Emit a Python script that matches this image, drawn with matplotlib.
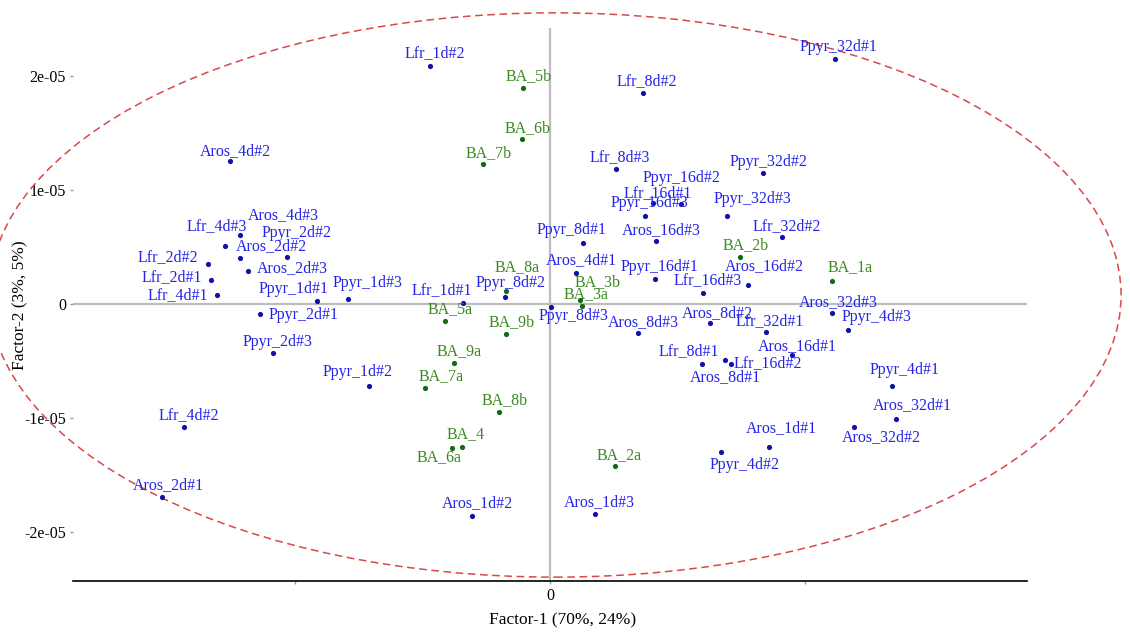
import matplotlib
matplotlib.use("Agg")
import matplotlib.pyplot as plt
from matplotlib.patches import Ellipse

plt.rcParams['font.family'] = ['Liberation Serif', 'DejaVu Serif']

# ---- data (scores in units of 1e-05) ----
blue_names = ["Lfr_1d#2", "Lfr_8d#2", "Ppyr_32d#1", "Aros_4d#2", "Lfr_8d#3", "Ppyr_32d#2",
              "Ppyr_16d#2", "Lfr_16d#1", "Ppyr_16d#3", "Ppyr_32d#3", "Lfr_4d#3", "Aros_4d#3",
              "Ppyr_2d#2", "Aros_2d#2", "Lfr_2d#2", "Aros_2d#3", "Lfr_2d#1", "Lfr_4d#1",
              "Ppyr_1d#1", "Ppyr_1d#3", "Ppyr_8d#1", "Aros_16d#3", "Lfr_32d#2", "Aros_4d#1",
              "Ppyr_16d#1", "Aros_16d#2", "Lfr_16d#3", "Lfr_1d#1", "Ppyr_8d#2", "Ppyr_8d#3",
              "Aros_8d#3", "Aros_8d#2", "Lfr_32d#1", "Aros_32d#3", "Ppyr_4d#3", "Ppyr_2d#1",
              "Ppyr_2d#3", "Ppyr_1d#2", "Lfr_8d#1", "Lfr_16d#2", "Aros_8d#1", "Aros_16d#1",
              "Ppyr_4d#1", "Aros_32d#1", "Aros_32d#2", "Aros_1d#1", "Ppyr_4d#2", "Lfr_4d#2",
              "Aros_2d#1", "Aros_1d#2", "Aros_1d#3"]
blue_x = [-0.470, 0.365, 1.118, -1.255, 0.259, 0.835,
          0.514, 0.404, 0.373, 0.694, -1.275, -1.216,
          -1.031, -1.216, -1.341, -1.184, -1.329, -1.306,
          -0.914, -0.792, 0.129, 0.416, 0.910, 0.102,
          0.412, 0.776, 0.600, -0.341, -0.176, 0.004,
          0.345, 0.627, 0.847, 1.106, 1.169, -1.137,
          -1.086, -0.710, 0.596, 0.710, 0.686, 0.949,
          1.341, 1.357, 1.192, 0.859, 0.671, -1.435,
          -1.522, -0.306, 0.176]
blue_y = [2.09, 1.85, 2.15, 1.254, 1.184, 1.149,
          0.877, 0.886, 0.772, 0.772, 0.509, 0.605,
          0.412, 0.404, 0.351, 0.289, 0.211, 0.079,
          0.026, 0.044, 0.535, 0.553, 0.588, 0.272,
          0.219, 0.167, 0.096, 0.009, 0.061, -0.026,
          -0.254, -0.167, -0.246, -0.079, -0.228, -0.088,
          -0.430, -0.719, -0.526, -0.526, -0.491, -0.447,
          -0.719, -1.009, -1.079, -1.254, -1.298, -1.079,
          -1.693, -1.860, -1.842]

green_names = ["BA_5b", "BA_6b", "BA_7b", "BA_2b", "BA_1a", "BA_8a", "BA_3b", "BA_3a",
               "BA_5a", "BA_9b", "BA_9a", "BA_7a", "BA_8b", "BA_4", "BA_6a", "BA_2a"]
green_x = [-0.106, -0.110, -0.263, 0.745, 1.106, -0.173, 0.118, 0.125,
           -0.412, -0.173, -0.376, -0.490, -0.200, -0.345, -0.384, 0.255]
green_y = [1.895, 1.447, 1.228, 0.412, 0.202, 0.114, 0.035, -0.018,
           -0.149, -0.263, -0.518, -0.737, -0.947, -1.254, -1.263, -1.421]

y_ticks = [-2, -1, 0, 1, 2]
y_tick_labels = ["-2e-05", "-1e-05", "0", "1e-05", "2e-05"]
x_ticks = [-1, 0, 1]
x_tick_labels = ["", "0", ""]

# label placement (offset of label centre from point, in pixels)
blue_off = [(4.5, 13), (3.5, 12), (4, 12), (5.5, 10), (3.5, 12), (6, 11),
            (0, 26), (4.5, 10), (4.5, 13), (26, 17), (-8, 20), (43, 20),
            (9, 24), (31, 12), (-40.5, 7), (44.5, 3), (-39.5, 3), (-39.5, 0),
            (-23.5, 12), (19.5, 16), (-11.5, 13), (5, 11), (5, 11), (5.5, 13),
            (4, 12), (16.5, 19), (4.5, 13), (-21.5, 13), (5, 14), (22.5, -9),
            (5.5, 11), (7.5, 10), (3.5, 11), (6, 11), (29, 13), (43, -1),
            (4.5, 11), (-11, 14), (-13, 13), (37, 1), (1, -17), (5.5, 9),
            (13, 16), (16, 14), (27.5, -10), (12.5, 19), (24, -13), (5, 12),
            (6, 12), (5, 13), (4.5, 12)]
green_off = [(6, 12), (6, 11), (5.5, 11), (5.5, 12), (18.5, 14), (11.5, 24), (17.5, 18), (4.5, 12),
             (5.5, 12), (6, 12), (5.5, 12), (16.5, 12), (6, 12), (4, 13), (-13.5, -9), (4.5, 11)]

W, H = 1130, 633
fig = plt.figure(figsize=(W / 100, H / 100), dpi=100)
ax = fig.add_axes([73 / W, (H - 581) / H, (1027 - 73) / W, (581 - 28) / H])

ax.set_xlim(-1.871, 1.871)
ax.set_ylim(-2.43, 2.421)

ax.axhline(0, color="#bdbdbd", lw=1.6, zorder=1)
ax.axvline(0, color="#bdbdbd", lw=1.6, zorder=1)

ell = Ellipse((0.02, 0.079), 4.44, 4.95, fill=False, edgecolor="#d9484a",
              linestyle=(0, (5, 3)), lw=1.1, clip_on=False, zorder=2)
ax.add_patch(ell)

blue_pt, blue_txt = "#1010a8", "#2424e8"
green_pt, green_txt = "#0f6a14", "#3a8a22"

ax.scatter(blue_x, blue_y, s=14, color=blue_pt, zorder=4, linewidths=0)
ax.scatter(green_x, green_y, s=14, color=green_pt, zorder=4, linewidths=0)

for n, x, y, off in zip(blue_names, blue_x, blue_y, blue_off):
    ax.annotate(n, (x, y), xytext=off, textcoords="offset pixels", ha="center",
                va="center", color=blue_txt, fontsize=11.5, zorder=5)
for n, x, y, off in zip(green_names, green_x, green_y, green_off):
    ax.annotate(n, (x, y), xytext=off, textcoords="offset pixels", ha="center",
                va="center", color=green_txt, fontsize=11.5, zorder=5)

for s in ["top", "right", "left"]:
    ax.spines[s].set_visible(False)
ax.spines["bottom"].set_color("black")
ax.spines["bottom"].set_linewidth(1.2)

ax.set_yticks(y_ticks)
ax.set_yticklabels(y_tick_labels)
ax.set_xticks(x_ticks)
ax.set_xticklabels(x_tick_labels)
ax.tick_params(axis="both", length=2, width=1, color="#999999", labelsize=11.5,
               labelcolor="black", pad=3)

fig.text(563 / W, 1 - 620 / H, "Factor-1 (70%, 24%)", ha="center", va="center", fontsize=12.5)
fig.text(20 / W, 1 - 305 / H, "Factor-2 (3%, 5%)", ha="center", va="center",
         fontsize=12.5, rotation=90)

fig.savefig("out.png", dpi=100)
